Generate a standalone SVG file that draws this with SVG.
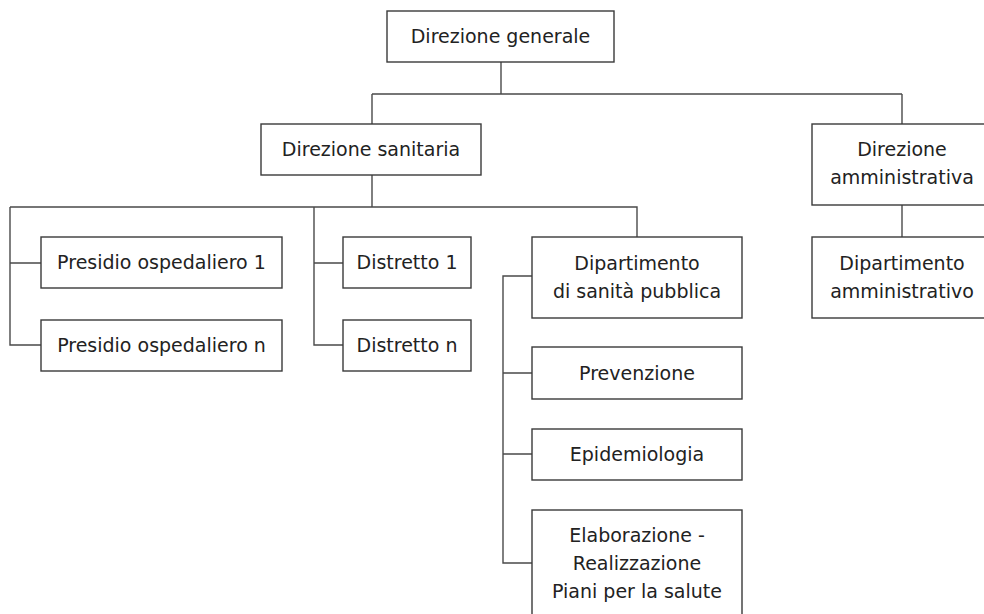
<svg xmlns="http://www.w3.org/2000/svg" width="984" height="614" viewBox="0 0 984 614">
  <style>
    .box { fill: #ffffff; stroke: #3a3a3a; stroke-width: 1.4; }
    .conn { fill: none; stroke: #4a4a4a; stroke-width: 1.4; }
    text { font-family: "DejaVu Sans", "Liberation Sans", sans-serif; font-size: 19px; fill: #222222; text-anchor: middle; }
  </style>
  <rect width="984" height="614" fill="#ffffff"/>

  <!-- connectors -->
  <g id="connectors">
    <path class="conn" d="M501 62 V94 M372 94 H902 M372 94 V124 M902 94 V124"/>
    <path class="conn" d="M372 175 V207 M10 207 H637 V237"/>
    <path class="conn" d="M10 207 V345 H41 M10 263 H41"/>
    <path class="conn" d="M314 207 V345 H343 M314 263 H343"/>
    <path class="conn" d="M902 205 V237"/>
    <path class="conn" d="M532 276 H503 V563 H532 M503 373 H532 M503 454 H532"/>
  </g>

  <g id="direzione-generale">
    <rect class="box" x="387" y="11" width="227" height="51"/>
    <text x="500.5" y="43">Direzione generale</text>
  </g>

  <g id="direzione-sanitaria">
    <rect class="box" x="261" y="124" width="220" height="51"/>
    <text x="371" y="156">Direzione sanitaria</text>
  </g>

  <g id="direzione-amministrativa">
    <rect class="box" x="812" y="124" width="180" height="81"/>
    <text x="902" y="156">Direzione</text>
    <text x="902" y="184">amministrativa</text>
  </g>

  <g id="presidio-1">
    <rect class="box" x="41" y="237" width="241" height="51"/>
    <text x="161.5" y="269">Presidio ospedaliero 1</text>
  </g>

  <g id="presidio-n">
    <rect class="box" x="41" y="320" width="241" height="51"/>
    <text x="161.5" y="352">Presidio ospedaliero n</text>
  </g>

  <g id="distretto-1">
    <rect class="box" x="343" y="237" width="128" height="51"/>
    <text x="407" y="269">Distretto 1</text>
  </g>

  <g id="distretto-n">
    <rect class="box" x="343" y="320" width="128" height="51"/>
    <text x="407" y="352">Distretto n</text>
  </g>

  <g id="dipartimento-sanita-pubblica">
    <rect class="box" x="532" y="237" width="210" height="81"/>
    <text x="637" y="269.5">Dipartimento</text>
    <text x="637" y="297.5">di sanità pubblica</text>
  </g>

  <g id="dipartimento-amministrativo">
    <rect class="box" x="812" y="237" width="180" height="81"/>
    <text x="902" y="269.5">Dipartimento</text>
    <text x="902" y="297.5">amministrativo</text>
  </g>

  <g id="prevenzione">
    <rect class="box" x="532" y="347" width="210" height="52"/>
    <text x="637" y="379.5">Prevenzione</text>
  </g>

  <g id="epidemiologia">
    <rect class="box" x="532" y="429" width="210" height="51"/>
    <text x="637" y="461">Epidemiologia</text>
  </g>

  <g id="elaborazione">
    <rect class="box" x="532" y="510" width="210" height="112"/>
    <text x="637" y="542">Elaborazione -</text>
    <text x="637" y="570">Realizzazione</text>
    <text x="637" y="598">Piani per la salute</text>
  </g>
</svg>
